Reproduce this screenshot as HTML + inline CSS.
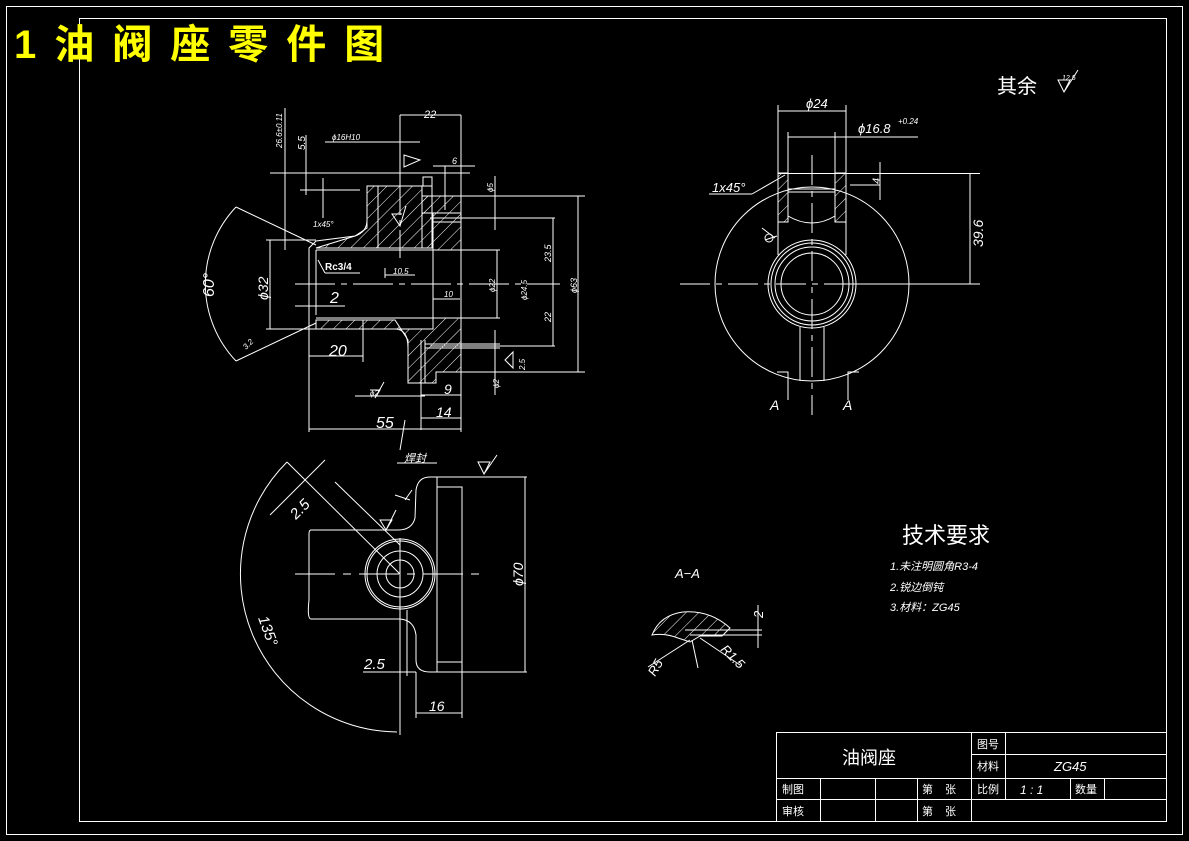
<!DOCTYPE html>
<html><head><meta charset="utf-8"><style>
body{margin:0;background:#000;}
svg{display:block;}
text{fill:#fff;font-family:"Liberation Sans","Noto Sans CJK SC",sans-serif;}
.i{font-style:italic;}
</style></head><body>
<svg width="1189" height="841" viewBox="0 0 1189 841" xmlns="http://www.w3.org/2000/svg">
<defs>
<pattern id="h" width="9" height="9" patternUnits="userSpaceOnUse" patternTransform="rotate(45)">
<line x1="0" y1="0" x2="0" y2="9" stroke="#fff" stroke-width="1"/></pattern>
</defs>
<rect width="1189" height="841" fill="#000"/>
<g fill="none" stroke="#fff" stroke-width="1">
<rect x="6.5" y="6.5" width="1176" height="828"/>
<rect x="79.5" y="18.5" width="1087" height="803"/>
<rect x="776.5" y="732.5" width="390" height="89"/>
<line x1="971.5" y1="732" x2="971.5" y2="822"/>
<line x1="1005.5" y1="732" x2="1005.5" y2="778"/>
<line x1="971" y1="754.5" x2="1166" y2="754.5"/>
<line x1="776" y1="778.5" x2="1166" y2="778.5"/>
<line x1="776" y1="799.5" x2="971" y2="799.5"/>
<line x1="820.5" y1="778" x2="820.5" y2="822"/>
<line x1="875.5" y1="778" x2="875.5" y2="822"/>
<line x1="917.5" y1="778" x2="917.5" y2="822"/>
<line x1="1005.5" y1="778" x2="1005.5" y2="799"/>
<line x1="1070.5" y1="778" x2="1070.5" y2="799"/>
<line x1="1104.5" y1="778" x2="1104.5" y2="799"/>
<line x1="971" y1="799.5" x2="1166" y2="799.5"/>

<polygon points="316,248 355,236 367,228 367,186 422,186 422,196 432,196 432,248 316,248" fill="url(#h)"/>
<polygon points="316,320 395,320 408,340 408,383 436,383 436,372 461,372 461,318 433,318 433,329 316,329" fill="url(#h)"/>
<polygon points="422,196 461,196 461,250 433,250 433,213 422,213" fill="url(#h)"/>
<path d="M309,248 L316,241 L355,236 Q367,232 367,220 L367,186 L423,186 L423,177 L432,177 L432,196 L461,196 L461,372 L436,372 L436,383 L408,383 L408,348 Q408,329 395,329 L309,329 Z"/>
<line x1="316" y1="250" x2="316" y2="315"/>
<line x1="316" y1="250" x2="433" y2="250"/>
<line x1="316" y1="318" x2="433" y2="318"/>
<line x1="433" y1="250" x2="433" y2="318"/>
<line x1="378" y1="186" x2="378" y2="248"/>
<line x1="422" y1="186" x2="422" y2="248"/>
<line x1="367" y1="186" x2="432" y2="186"/>
<line x1="433" y1="213" x2="461" y2="213"/>
<line x1="433" y1="222" x2="461" y2="222"/>
<line x1="425" y1="344" x2="500" y2="344"/>
<line x1="425" y1="348" x2="500" y2="348"/>
<line x1="421" y1="340" x2="421" y2="430"/>
<line x1="425" y1="340" x2="425" y2="383"/>
<line x1="295" y1="284" x2="560" y2="284" stroke-dasharray="40,6,6,6"/>
<line x1="400" y1="140" x2="400" y2="258" stroke-dasharray="30,5,5,5"/>
<line x1="270" y1="173" x2="470" y2="173"/>
<line x1="285" y1="108" x2="285" y2="250"/>
<line x1="306" y1="135" x2="306" y2="195"/>
<line x1="300" y1="190" x2="360" y2="190"/>
<line x1="323" y1="178" x2="323" y2="218"/>
<line x1="325" y1="142" x2="420" y2="142"/>
<line x1="400" y1="115" x2="461" y2="115"/>
<line x1="400" y1="115" x2="400" y2="186"/>
<line x1="461" y1="115" x2="461" y2="196"/>
<line x1="433" y1="166" x2="475" y2="166"/>
<line x1="445" y1="166" x2="445" y2="210"/>
<line x1="461" y1="196" x2="585" y2="196"/>
<line x1="461" y1="372" x2="585" y2="372"/>
<line x1="578" y1="196" x2="578" y2="372"/>
<line x1="430" y1="218" x2="555" y2="218"/>
<line x1="430" y1="346" x2="555" y2="346"/>
<line x1="553" y1="218" x2="553" y2="346"/>
<line x1="433" y1="250" x2="500" y2="250"/>
<line x1="433" y1="318" x2="500" y2="318"/>
<line x1="497" y1="250" x2="497" y2="318"/>
<line x1="495" y1="176" x2="495" y2="230"/>
<line x1="495" y1="330" x2="495" y2="395"/>
<line x1="266" y1="240" x2="316" y2="240"/>
<line x1="266" y1="329" x2="316" y2="329"/>
<line x1="270" y1="240" x2="270" y2="329"/>
<line x1="295" y1="306" x2="345" y2="306"/>
<line x1="309" y1="329" x2="309" y2="432"/>
<line x1="461" y1="372" x2="461" y2="432"/>
<line x1="309" y1="356" x2="363" y2="356"/>
<line x1="363" y1="320" x2="363" y2="362"/>
<line x1="309" y1="429" x2="461" y2="429"/>
<line x1="421" y1="418" x2="461" y2="418"/>
<line x1="421" y1="395" x2="461" y2="395"/>
<line x1="355" y1="396" x2="425" y2="396"/>
<line x1="385" y1="268" x2="385" y2="278"/>
<line x1="385" y1="275" x2="415" y2="275"/>
<line x1="433" y1="299" x2="460" y2="299"/>
<line x1="325" y1="273" x2="360" y2="273"/>
<line x1="318" y1="260" x2="325" y2="273"/>
<line x1="400" y1="450" x2="405" y2="420"/>
<line x1="397" y1="463" x2="437" y2="463"/>
<path d="M236,207 A112 112 0 0 0 236,361"/>
<line x1="236" y1="207" x2="316" y2="245"/>
<line x1="236" y1="361" x2="316" y2="323"/>
<path d="M402,214 L392,214 L400,226 L406,206"/>
<path d="M370,390 L380,390 L375,398 L384,382"/>
<path d="M505,360 L513,352 L513,368 Z"/>
<path d="M404,155 L420,160 L404,167 Z"/>

<circle cx="812" cy="284" r="97"/>
<circle cx="812" cy="284" r="44"/>
<circle cx="812" cy="284" r="41"/>
<circle cx="812" cy="284" r="37"/>
<circle cx="812" cy="284" r="31"/>
<polygon points="778,173 788,173 788,190 788,222 778,222" fill="url(#h)"/>
<polygon points="835,173 846,173 846,222 835,222" fill="url(#h)"/>
<line x1="778" y1="173" x2="778" y2="255"/>
<line x1="846" y1="173" x2="846" y2="255"/>
<line x1="788" y1="173" x2="788" y2="216"/>
<line x1="835" y1="173" x2="835" y2="216"/>
<line x1="778" y1="173.5" x2="980" y2="173.5"/>
<line x1="788" y1="189" x2="835" y2="189"/>
<line x1="788" y1="192" x2="835" y2="192"/>
<path d="M788,216 Q812,230 835,216"/>
<line x1="800" y1="327" x2="800" y2="381"/>
<line x1="824" y1="327" x2="824" y2="381"/>
<line x1="680" y1="284" x2="945" y2="284" stroke-dasharray="30,6,6,6"/>
<line x1="812" y1="155" x2="812" y2="415" stroke-dasharray="30,6,6,6"/>
<line x1="778" y1="111" x2="846" y2="111"/>
<line x1="788" y1="137" x2="918" y2="137"/>
<line x1="778" y1="105" x2="778" y2="173"/>
<line x1="846" y1="105" x2="846" y2="173"/>
<line x1="788" y1="132" x2="788" y2="173"/>
<line x1="835" y1="132" x2="835" y2="173"/>
<line x1="850" y1="185" x2="880" y2="185"/>
<line x1="880" y1="162" x2="880" y2="200"/>
<line x1="970" y1="173" x2="970" y2="284"/>
<line x1="850" y1="284" x2="980" y2="284"/>
<line x1="709" y1="194" x2="752" y2="194"/>
<line x1="752" y1="194" x2="785" y2="175"/>
<path d="M777,372 L788,372 L788,400 M859,372 L848,372 L848,400"/>
<path d="M765,240 L777,236 M762,228 L775,238"/>
<circle cx="769" cy="238" r="4"/>
<path d="M1058,80 L1070,80 L1064,92 Z M1064,92 L1078,70"/>

<path d="M287,462 A158 158 0 0 0 397,732"/>
<line x1="287" y1="462" x2="400" y2="574"/>
<line x1="335" y1="482" x2="400" y2="545"/>
<line x1="270" y1="515" x2="325" y2="460"/>
<circle cx="400" cy="574" r="14"/>
<circle cx="400" cy="574" r="23"/>
<circle cx="400" cy="574" r="33"/>
<circle cx="400" cy="574" r="35"/>
<path d="M311,530 L398,530 Q412,530 415,518 L416,490 Q418,477 430,477 L437,477 L437,672 L430,672 Q416,672 416,660 L416,635 Q414,620 400,619 L311,619 Q307,619 309,600 L309,534 Q309,530 311,530 Z"/>
<line x1="437" y1="477" x2="527" y2="477"/>
<line x1="437" y1="672" x2="527" y2="672"/>
<rect x="437" y="487" width="25" height="175"/>
<line x1="462" y1="662" x2="462" y2="718"/>
<line x1="416" y1="672" x2="416" y2="718"/>
<line x1="416" y1="713" x2="462" y2="713"/>
<line x1="525" y1="477" x2="525" y2="672"/>
<line x1="295" y1="574" x2="480" y2="574" stroke-dasharray="40,8,8,8"/>
<line x1="400" y1="538" x2="400" y2="735"/>
<line x1="407" y1="610" x2="407" y2="676"/>
<line x1="363" y1="672" x2="416" y2="672"/>
<path d="M380,520 L392,520 L386,530 Z M386,530 L396,510"/>
<path d="M405,500 L412,490 M395,495 L410,500"/>
<path d="M478,462 L490,462 L484,474 Z M484,474 L497,455"/>
<path d="M652,635 Q660,615 683,612 Q710,610 730,628 L722,636 L700,636 L690,642 L678,638 Q665,633 652,635 Z" fill="url(#h)"/>
<line x1="685" y1="630" x2="762" y2="630"/>
<line x1="690" y1="635" x2="762" y2="635"/>
<line x1="758" y1="605" x2="758" y2="648"/>
<line x1="648" y1="667" x2="690" y2="640"/>
<line x1="700" y1="638" x2="740" y2="665"/>
<line x1="692" y1="640" x2="698" y2="668"/>
</g>

<text x="14" y="58" font-size="40" font-weight="bold" letter-spacing="18" style="fill:#ff0">1油阀座零件图</text>
<g class="i" font-size="11">
<text x="424" y="118">22</text>
<text x="332" y="140" font-size="8">ϕ16H10</text>
<text x="452" y="164" font-size="9">6</text>
<text x="313" y="227" font-size="8">1x45°</text>
<text x="325" y="270" font-size="10" font-weight="bold" style="font-style:normal">Rc3/4</text>
<text x="393" y="274" font-size="8">10.5</text>
<text x="444" y="297" font-size="8">10</text>
<text x="330" y="303" font-size="16">2</text>
<text x="329" y="356" font-size="16">20</text>
<text x="376" y="428" font-size="16">55</text>
<text x="444" y="394" font-size="14">9</text>
<text x="436" y="417" font-size="14">14</text>
<text x="370" y="396" font-size="8">ϕ2</text>
<text x="404" y="462" font-size="11">焊封</text>
<text x="806" y="108" font-size="13">ϕ24</text>
<text x="858" y="133" font-size="13">ϕ16.8</text>
<text x="898" y="124" font-size="8">+0.24</text>
<text x="712" y="192" font-size="13">1x45°</text>
<text x="770" y="410" font-size="14">A</text>
<text x="843" y="410" font-size="14">A</text>
<text x="675" y="578" font-size="13">A−A</text>
<text x="997" y="93" font-size="20" style="font-style:normal">其余</text>
<text x="1062" y="80" font-size="7">12.5</text>
<text x="902" y="543" font-size="22" style="font-style:normal">技术要求</text>
<text x="890" y="570" font-size="11">1.未注明圆角R3-4</text>
<text x="890" y="591" font-size="11">2.锐边倒钝</text>
<text x="890" y="611" font-size="11">3.材料：ZG45</text>
<text x="429" y="711" font-size="14">16</text>
<text x="364" y="669" font-size="15">2.5</text>
</g>
<g class="i">
<text transform="translate(983,247) rotate(-90)" font-size="14">39.6</text>
<text transform="translate(880,184) rotate(-90)" font-size="11">4</text>
<text transform="translate(214,297) rotate(-90)" font-size="16">60°</text>
<text transform="translate(268,300) rotate(-90)" font-size="14">ϕ32</text>
<text transform="translate(282,148) rotate(-90)" font-size="8">26.6±0.11</text>
<text transform="translate(305,150) rotate(-90)" font-size="10">5.5</text>
<text transform="translate(551,262) rotate(-90)" font-size="9">23.5</text>
<text transform="translate(551,322) rotate(-90)" font-size="9">22</text>
<text transform="translate(577,293) rotate(-90)" font-size="9">ϕ63</text>
<text transform="translate(495,292) rotate(-90)" font-size="8">ϕ22</text>
<text transform="translate(527,300) rotate(-90)" font-size="8">ϕ24.5</text>
<text transform="translate(493,192) rotate(-90)" font-size="8">ϕ5</text>
<text transform="translate(499,388) rotate(-90)" font-size="8">ϕ2</text>
<text transform="translate(525,370) rotate(-90)" font-size="8">2.5</text>
<text transform="translate(523,586) rotate(-90)" font-size="14">ϕ70</text>
<text transform="translate(296,520) rotate(-45)" font-size="15">2.5</text>
<text transform="translate(258,618) rotate(70)" font-size="15">135°</text>
<text transform="translate(763,618) rotate(-90)" font-size="13">2</text>
<text transform="translate(655,677) rotate(-60)" font-size="13">R5</text>
<text transform="translate(720,650) rotate(45)" font-size="13">R1.5</text>
<text transform="translate(246,350) rotate(-45)" font-size="8">3.2</text>
</g>
<text x="842" y="764" font-size="18">油阀座</text>
<g font-size="11">
<text x="977" y="748">图号</text>
<text x="977" y="770">材料</text>
<text x="1054" y="771" class="i" font-size="13">ZG45</text>
<text x="782" y="793">制图</text>
<text x="782" y="815">审核</text>
<text x="922" y="793">第</text><text x="945" y="793">张</text>
<text x="922" y="815">第</text><text x="945" y="815">张</text>
<text x="977" y="793">比例</text>
<text x="1020" y="794" class="i" font-size="12">1 : 1</text>
<text x="1075" y="793">数量</text>
</g>
</svg>
</body></html>
